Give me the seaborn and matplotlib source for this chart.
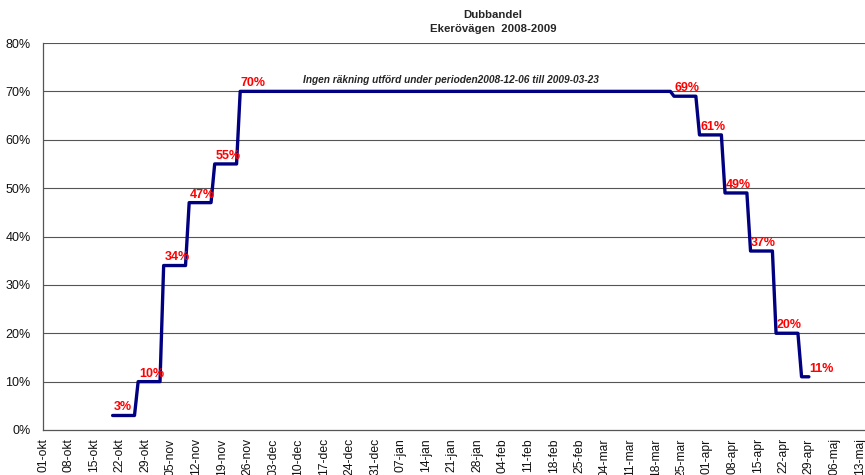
import pandas as pd
import matplotlib
matplotlib.use("Agg")
import matplotlib.pyplot as plt
import matplotlib.dates as mdates
import seaborn as sns

# Weekly counts, each value held from step_start to step_end
step_start = ["2008-10-20", "2008-10-27", "2008-11-03", "2008-11-10", "2008-11-17", "2008-11-24",
              "2009-03-23", "2009-03-30", "2009-04-06", "2009-04-13", "2009-04-20", "2009-04-27"]
step_end = ["2008-10-26", "2008-11-02", "2008-11-09", "2008-11-16", "2008-11-23", "2009-03-22",
            "2009-03-29", "2009-04-05", "2009-04-12", "2009-04-19", "2009-04-26", "2009-04-29"]
share = [3, 10, 34, 47, 55, 70, 69, 61, 49, 37, 20, 11]

tick_dates = pd.date_range("2008-10-01", "2009-05-13", freq="7D")
tick_labels = ["01-okt", "08-okt", "15-okt", "22-okt", "29-okt", "05-nov", "12-nov", "19-nov",
               "26-nov", "03-dec", "10-dec", "17-dec", "24-dec", "31-dec", "07-jan", "14-jan",
               "21-jan", "28-jan", "04-feb", "11-feb", "18-feb", "25-feb", "04-mar", "11-mar",
               "18-mar", "25-mar", "01-apr", "08-apr", "15-apr", "22-apr", "29-apr", "06-maj",
               "13-maj"]
y_ticks = [0, 10, 20, 30, 40, 50, 60, 70, 80]

title = "Dubbandel\nEkerövägen  2008-2009"
note = "Ingen räkning utförd under perioden2008-12-06 till 2009-03-23"

# long format for the step line
rows = []
for s, e, v in zip(step_start, step_end, share):
    rows.append({"date": pd.Timestamp(s), "value": v})
    rows.append({"date": pd.Timestamp(e), "value": v})
df = pd.DataFrame(rows)

sns.set_theme(style="white")
plt.rcParams["font.family"] = ["Liberation Sans", "DejaVu Sans"]

fig = plt.figure(figsize=(8.65, 4.75), dpi=100)
ax = fig.add_axes([43 / 865, 45 / 475, 1 - 43 / 865, (430 - 43) / 475])

for y in y_ticks[1:]:
    ax.axhline(y, color="#555555", lw=0.8, zorder=1)

sns.lineplot(data=df, x="date", y="value", sort=False, estimator=None,
             color="#000080", lw=2.4, ax=ax, zorder=3)

# value labels
for i, (s, e, v) in enumerate(zip(step_start, step_end, share)):
    anchor = e if i == len(share) - 1 else s
    ax.annotate(f"{v}%", (mdates.date2num(pd.Timestamp(anchor)), v),
                xytext=(0.5, 1.5), textcoords="offset points", ha="left", va="bottom",
                color="#FF0000", fontsize=9, fontweight="bold", zorder=4)

ax.text(0.496, 0.904, note, transform=ax.transAxes, ha="center", va="center",
        fontsize=7.3, fontweight="bold", style="italic")

x0 = mdates.date2num(pd.Timestamp("2008-10-01"))
ax.set_xlim(x0 - 0.1, x0 + 225.4)
ax.set_ylim(0, 80)
ax.set_xticks(mdates.date2num(tick_dates))
ax.set_xticklabels(tick_labels, rotation=90, fontsize=8.7)
ax.set_yticks(y_ticks)
ax.set_yticklabels([f"{t}%" for t in y_ticks], fontsize=9)
ax.set_xlabel("")
ax.set_ylabel("")
ax.tick_params(axis="x", direction="out", length=4, width=0.8, color="#555555", pad=2,
               labelcolor="#111111")
ax.tick_params(axis="y", direction="out", length=4, width=0.8, color="#555555", pad=5,
               labelcolor="#111111")

for side in ["top", "right"]:
    ax.spines[side].set_visible(False)
for side in ["left", "bottom"]:
    ax.spines[side].set_color("#555555")
    ax.spines[side].set_linewidth(0.9)

fig.text(493 / 865, 1 - 22 / 475, title, ha="center", va="center",
         fontsize=8.2, fontweight="bold", linespacing=1.45)

fig.savefig("out.png", dpi=100)
